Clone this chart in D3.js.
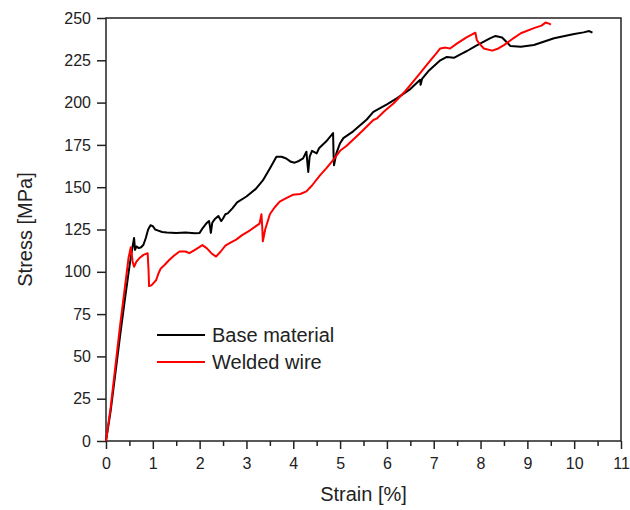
<!DOCTYPE html>
<html><head><meta charset="utf-8">
<script src="https://cdn.jsdelivr.net/npm/d3@7"></script>
<style>
body{margin:0;background:#fff;}
text{font-family:"Liberation Sans",Arial,sans-serif;fill:#222;}
</style></head>
<body><svg id="c" width="630" height="510"></svg>
<script>
const seriesNames = ["Base material", "Welded wire"];
const seriesColors = ["#000000", "#ff0000"];
const xTicks = [0,1,2,3,4,5,6,7,8,9,10,11];
const yTicks = [0,25,50,75,100,125,150,175,200,225,250];
const baseMaterial = [[0,0],[0.1,18],[0.2,40],[0.3,62],[0.4,83],[0.5,103],[0.55,112],[0.6,120],[0.62,113],[0.65,115],[0.7,114],[0.75,114.5],[0.8,116],[0.85,120],[0.9,125],[0.95,127.5],[1.0,127],[1.05,125],[1.1,124.5],[1.2,123.5],[1.3,123.2],[1.5,123],[1.7,123.2],[1.9,122.8],[2.0,123],[2.07,126],[2.14,128.5],[2.2,130],[2.22,127],[2.24,123],[2.27,129],[2.32,131],[2.4,133],[2.46,130],[2.5,131.5],[2.55,134],[2.6,134.5],[2.7,137.5],[2.8,141],[3.0,144.5],[3.2,149],[3.35,154],[3.5,161],[3.64,168],[3.75,168],[3.85,167],[3.95,165],[4.03,164.5],[4.12,165.5],[4.21,167],[4.28,171],[4.3,165],[4.32,159],[4.35,168],[4.4,171.5],[4.5,170],[4.55,173],[4.7,177],[4.85,182],[4.86,170],[4.87,163],[4.92,170],[5.0,176],[5.07,179],[5.28,183],[5.57,190],[5.71,194.5],[6.0,199],[6.21,202.5],[6.5,208],[6.71,213.5],[6.72,210.5],[6.75,214],[6.9,219],[7.14,225],[7.28,227],[7.43,226.5],[7.6,229],[7.71,230.5],[7.9,233.5],[8.07,236],[8.2,238],[8.32,239.4],[8.46,238.5],[8.55,236],[8.64,233.4],[8.86,233],[9.14,234],[9.57,238],[10.0,240.5],[10.2,241.5],[10.32,242.3],[10.39,241.3]];
const weldedWire = [[0,0],[0.1,20],[0.2,44],[0.3,68],[0.4,90],[0.48,108],[0.53,114.5],[0.57,106],[0.6,103],[0.65,106],[0.71,108],[0.8,110],[0.89,111],[0.91,100],[0.92,91.5],[0.97,92],[1.07,95],[1.12,99],[1.17,102],[1.25,104],[1.35,107],[1.45,109.5],[1.57,112],[1.7,112],[1.78,111],[1.9,113],[2.06,115.8],[2.15,114],[2.25,111],[2.35,109],[2.45,112],[2.55,115.5],[2.64,117],[2.78,119],[2.9,121.5],[3.05,124],[3.28,128.5],[3.32,134],[3.34,125],[3.35,118],[3.4,125],[3.5,134],[3.6,138],[3.71,141.5],[3.85,143.5],[3.99,145.5],[4.15,146],[4.28,147.5],[4.4,151],[4.57,157],[4.7,161],[4.85,166],[5.0,171.5],[5.14,174.5],[5.35,180],[5.5,184],[5.71,189.7],[5.78,190.5],[5.95,195],[6.14,199.5],[6.4,207],[6.64,215],[6.8,220.5],[6.93,225],[7.05,229],[7.14,232],[7.25,232.5],[7.35,232],[7.5,235],[7.7,238.5],[7.89,241.3],[7.92,237],[7.97,235],[8.07,232],[8.25,230.7],[8.38,232],[8.5,234],[8.7,238],[8.86,241],[9.14,244],[9.3,245.5],[9.39,247.3],[9.48,246.5],[9.5,246]];

const svg = d3.select("#c");
const L=106, R=621, T=18, B=441;
const x = d3.scaleLinear().domain([0,11]).range([L,R]);
const y = d3.scaleLinear().domain([0,250]).range([B,T]);

// frame
svg.append("rect").attr("x",L).attr("y",T).attr("width",R-L).attr("height",B-T)
  .attr("fill","none").attr("stroke","#222").attr("stroke-width",1.5);

// minor x ticks
const minor = d3.range(0.5,11,1);
svg.append("g").attr("transform",`translate(0,${B})`)
  .call(d3.axisBottom(x).tickValues(minor).tickSize(5).tickFormat(""))
  .call(g=>g.select(".domain").remove())
  .selectAll("line").attr("stroke","#222").attr("stroke-width",1.5);

const gx = svg.append("g").attr("transform",`translate(0,${B})`)
  .call(d3.axisBottom(x).tickValues(xTicks).tickSize(8).tickPadding(9).tickFormat(d3.format("d")));
gx.select(".domain").remove();
gx.selectAll("line").attr("stroke","#222").attr("stroke-width",1.5);
gx.selectAll("text").attr("font-size",16).attr("font-family","Liberation Sans, Arial, sans-serif").attr("fill","#222");

const gy = svg.append("g").attr("transform",`translate(${L},0)`)
  .call(d3.axisLeft(y).tickValues(yTicks).tickSize(9).tickPadding(6).tickFormat(d3.format("d")));
gy.select(".domain").remove();
gy.selectAll("line").attr("stroke","#222").attr("stroke-width",1.5);
gy.selectAll("text").attr("font-size",16).attr("font-family","Liberation Sans, Arial, sans-serif").attr("fill","#222");

const line = d3.line().x(d=>x(d[0])).y(d=>y(d[1]));
const data = [baseMaterial, weldedWire];
data.forEach((s,i)=>{
  svg.append("path").datum(s).attr("d",line).attr("fill","none")
    .attr("stroke",seriesColors[i]).attr("stroke-width",2).attr("stroke-linejoin","round");
});

// axis titles
svg.append("text").attr("x",(L+R)/2).attr("y",501).attr("text-anchor","middle")
  .attr("font-size",20).text("Strain [%]");
svg.append("text").attr("transform",`translate(32,${(T+B)/2}) rotate(-90)`).attr("text-anchor","middle")
  .attr("font-size",20).text("Stress [MPa]");

// legend
seriesNames.forEach((n,i)=>{
  const yy = 335 + i*27;
  svg.append("line").attr("x1",157).attr("x2",205).attr("y1",yy).attr("y2",yy)
    .attr("stroke",seriesColors[i]).attr("stroke-width",2);
  svg.append("text").attr("x",212).attr("y",yy+7).attr("font-size",20).text(n);
});
</script></body></html>
